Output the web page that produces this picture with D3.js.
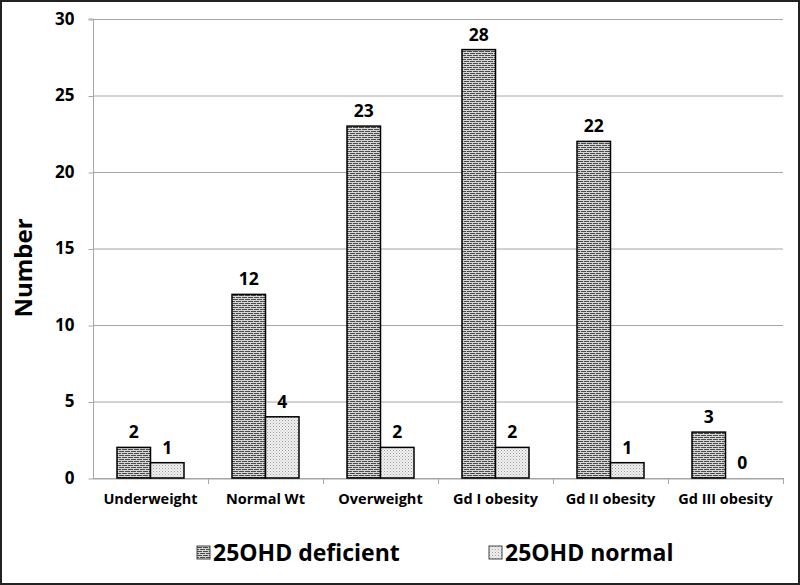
<!DOCTYPE html>
<html><head><meta charset="utf-8">
<script src="https://cdn.jsdelivr.net/npm/d3@7"></script>
<style>body{margin:0;background:#fff}svg{display:block}</style>
</head><body>
<script>
const categories = ["Underweight","Normal Wt","Overweight","Gd I obesity","Gd II obesity","Gd III obesity"];
const deficient = [2,12,23,28,22,3];
const normal = [1,4,2,2,1,0];
const seriesNames = ["25OHD deficient","25OHD normal"];
const yTicks = [0,5,10,15,20,25,30];

(function(){
const W=800,H=585;
const svg=d3.select("body").append("svg").attr("width",W).attr("height",H);
const defs=svg.append("defs");
const pb=defs.append("pattern").attr("id","brick").attr("patternUnits","userSpaceOnUse").attr("width",6).attr("height",4);
pb.append("rect").attr("width",6).attr("height",4).attr("fill","#4a4a4a");
pb.append("rect").attr("x",0).attr("y",0).attr("width",6).attr("height",1).attr("fill","#d8d8d8");
pb.append("rect").attr("x",0).attr("y",2).attr("width",6).attr("height",1).attr("fill","#d8d8d8");
pb.append("rect").attr("x",1).attr("y",1).attr("width",1).attr("height",1).attr("fill","#c8c8c8");
pb.append("rect").attr("x",4).attr("y",3).attr("width",1).attr("height",1).attr("fill","#c8c8c8");
const pd=defs.append("pattern").attr("id","dots").attr("patternUnits","userSpaceOnUse").attr("width",3).attr("height",3);
pd.append("rect").attr("width",3).attr("height",3).attr("fill","#f2f2f2");
pd.append("rect").attr("x",0).attr("y",0).attr("width",1).attr("height",1).attr("fill","#9a9a9a");
pd.append("rect").attr("x",1.5).attr("y",1.5).attr("width",1).attr("height",1).attr("fill","#b5b5b5");

svg.append("rect").attr("x",1).attr("y",1).attr("width",W-2).attr("height",H-2).attr("fill","#fff").attr("stroke","#222").attr("stroke-width",2);

const pl=93,pr=783,pt=19,pbm=478;
const x=d3.scaleBand().domain(categories).range([pl,pr]);
const x1=d3.scaleBand().domain(seriesNames).range([x.bandwidth()/2-33.5, x.bandwidth()/2+33.5]);
const y=d3.scaleLinear().domain([0,30]).range([pbm,pt]);

const font="'Open Sans', 'DejaVu Sans', sans-serif";
svg.append("g").selectAll("line").data(yTicks).join("line")
  .attr("x1",pl).attr("x2",pr).attr("y1",d=>y(d)+0.5).attr("y2",d=>y(d)+0.5)
  .attr("stroke","#a6a6a6").attr("stroke-width",1);
const ya=svg.append("g").attr("transform",`translate(${pl+0.5},0)`)
  .call(d3.axisLeft(y).tickValues(yTicks).tickSize(5).tickPadding(14));
ya.select(".domain").attr("stroke","#a6a6a6").attr("d",`M-5,${pt}H0V${pbm}`);
ya.selectAll(".tick line").attr("stroke","#a6a6a6").attr("transform","translate(0,0.5)");
ya.selectAll("text").attr("font-family",font).attr("font-weight","bold").attr("font-size",17).attr("fill","#000");
const xa=svg.append("g").attr("transform",`translate(0,${pbm+0.5})`)
  .call(d3.axisBottom(x).tickSize(0).tickPadding(15));
xa.select(".domain").attr("stroke","#a6a6a6");
xa.selectAll("text").attr("font-family",font).attr("font-weight","bold").attr("font-size",14.5).attr("fill","#000");
svg.append("g").selectAll("line").data(categories).join("line")
  .attr("x1",d=>x(d)+x.bandwidth()+0.5).attr("x2",d=>x(d)+x.bandwidth()+0.5)
  .attr("y1",pbm).attr("y2",pbm+6).attr("stroke","#a6a6a6");

const fills=["url(#brick)","url(#dots)"];
const g=svg.append("g");
categories.forEach((c,i)=>{
  [deficient[i],normal[i]].forEach((v,j)=>{
    const bx=x(c)+x1(seriesNames[j]);
    if(v>0){
      g.append("rect").attr("x",bx).attr("y",y(v)).attr("width",x1.bandwidth()).attr("height",y(0)-y(v))
       .attr("fill",fills[j]).attr("stroke","#000").attr("stroke-width",1.5);
    }
    g.append("text").attr("x",bx+x1.bandwidth()/2).attr("y",y(v)-9)
      .attr("text-anchor","middle").attr("font-family",font).attr("font-weight","bold").attr("font-size",17.5)
      .text(v);
  });
});

svg.append("text").attr("transform",`translate(32,268) rotate(-90)`)
  .attr("text-anchor","middle").attr("font-family",font).attr("font-weight","bold").attr("font-size",24).text("Number");

const lg=svg.append("g");
const lx=[197,489];
seriesNames.forEach((s,j)=>{
  lg.append("rect").attr("x",lx[j]).attr("y",546).attr("width",13).attr("height",13).attr("fill",fills[j]).attr("stroke","#444").attr("stroke-width",1);
  lg.append("text").attr("x",lx[j]+16).attr("y",561).attr("font-family",font).attr("font-weight","bold").attr("font-size",23).text(s);
});
})();
</script>
</body></html>
